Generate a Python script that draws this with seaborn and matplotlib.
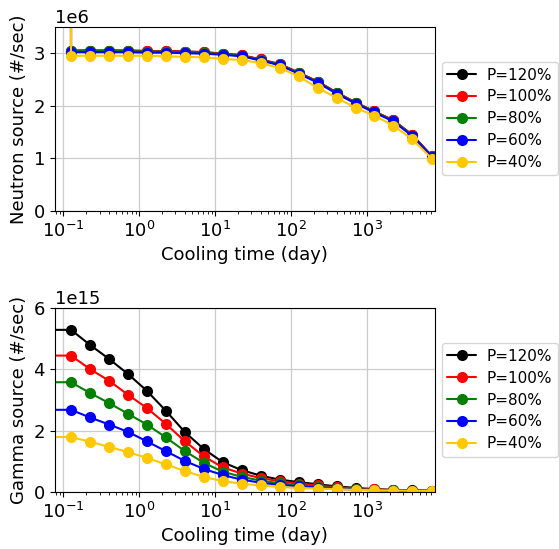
import numpy as np
import pandas as pd
import matplotlib
matplotlib.use("Agg")
import matplotlib.pyplot as plt
import seaborn as sns

# --- data ---
# first point is t=0 (clipped by the log axis, only its connecting segment shows)
cooling_days = [0, 0.126, 0.224, 0.40, 0.71, 1.26, 2.24, 4.0, 7.1, 12.6, 22.4,
                40, 71, 126, 224, 400, 710, 1260, 2240, 4000, 7200]
labels = ["P=120%", "P=100%", "P=80%", "P=60%", "P=40%"]
colors = ["black", "red", "green", "blue", "#FFC800"]

# neutron source (#/sec), units of 1e6
neutron_120 = [1.0e7, 3.05, 3.05, 3.05, 3.05, 3.04, 3.04, 3.03, 3.02, 2.99, 2.96,
               2.88, 2.79, 2.63, 2.46, 2.25, 2.06, 1.89, 1.72, 1.44, 1.04]
neutron_100 = [1.0e7, 3.05, 3.05, 3.05, 3.05, 3.04, 3.04, 3.03, 3.02, 2.99, 2.96,
               2.88, 2.79, 2.63, 2.46, 2.25, 2.06, 1.89, 1.72, 1.44, 1.04]
neutron_80 = [1.0e7, 3.04, 3.04, 3.04, 3.04, 3.03, 3.03, 3.02, 3.01, 2.98, 2.95,
              2.87, 2.78, 2.62, 2.45, 2.24, 2.05, 1.88, 1.71, 1.43, 1.03]
neutron_60 = [1.0e7, 3.02, 3.02, 3.02, 3.02, 3.01, 3.01, 3.00, 2.99, 2.97, 2.94,
              2.86, 2.77, 2.61, 2.44, 2.23, 2.04, 1.87, 1.70, 1.42, 1.03]
neutron_40 = [1.0e7, 2.95, 2.95, 2.95, 2.95, 2.95, 2.94, 2.93, 2.92, 2.89, 2.87,
              2.81, 2.72, 2.56, 2.34, 2.15, 1.96, 1.81, 1.62, 1.36, 0.99]

# gamma source (#/sec), units of 1e15
gamma_120 = [5.31, 5.29, 4.80, 4.34, 3.85, 3.30, 2.65, 1.95, 1.40, 0.97, 0.71,
             0.53, 0.40, 0.32, 0.25, 0.18, 0.13, 0.09, 0.07, 0.05, 0.04]
gamma_100 = [4.47, 4.45, 4.01, 3.63, 3.17, 2.74, 2.22, 1.65, 1.16, 0.80, 0.60,
             0.45, 0.35, 0.27, 0.21, 0.15, 0.11, 0.08, 0.06, 0.045, 0.035]
gamma_80 = [3.60, 3.58, 3.23, 2.90, 2.55, 2.20, 1.78, 1.33, 0.95, 0.66, 0.49,
            0.37, 0.28, 0.22, 0.17, 0.12, 0.09, 0.065, 0.05, 0.04, 0.03]
gamma_60 = [2.70, 2.68, 2.43, 2.20, 1.96, 1.65, 1.33, 1.01, 0.75, 0.55, 0.40,
            0.30, 0.23, 0.18, 0.14, 0.10, 0.075, 0.055, 0.045, 0.035, 0.03]
gamma_40 = [1.80, 1.79, 1.64, 1.47, 1.30, 1.11, 0.90, 0.68, 0.49, 0.35, 0.27,
            0.21, 0.16, 0.13, 0.11, 0.09, 0.065, 0.055, 0.045, 0.035, 0.03]

neutron = [neutron_120, neutron_100, neutron_80, neutron_60, neutron_40]
gamma = [gamma_120, gamma_100, gamma_80, gamma_60, gamma_40]

sns.set_style("white", rc={"text.color": "black", "axes.labelcolor": "black",
                           "xtick.color": "black", "ytick.color": "black"})
plt.rcParams["font.family"] = ["DejaVu Sans"]
plt.rcParams["font.size"] = 13

fig, (ax1, ax2) = plt.subplots(2, 1, figsize=(5.59, 5.49), dpi=100)
fig.subplots_adjust(left=0.098, right=0.778, top=0.951, bottom=0.104, hspace=0.53)

for ax, series, scale, ylab, ytop in [
        (ax1, neutron, 1e6, "Neutron source (#/sec)", 3.5e6),
        (ax2, gamma, 1e15, "Gamma source (#/sec)", 6e15)]:
    for vals, lab, col in zip(series, labels, colors):
        df = pd.DataFrame({"t": cooling_days, "s": np.array(vals) * scale})
        sns.lineplot(data=df, x="t", y="s", ax=ax, color=col, marker="o",
                     markersize=8, markeredgewidth=0, linewidth=1.5,
                     label=lab, sort=False)
    ax.set_xscale("log")
    ax.set_xlim(0.077, 7900)
    ax.set_ylim(0, ytop)
    ax.grid(True, color="#cccccc", linewidth=0.9)
    for s in ax.spines.values():
        s.set_color("black")
        s.set_linewidth(0.8)
    ax.tick_params(axis="both", which="both", direction="out", color="black",
                   bottom=True, left=True, labelsize=13)
    ax.tick_params(which="major", length=3.5, width=0.8)
    ax.tick_params(which="minor", length=2, width=0.6)
    ax.yaxis.get_offset_text().set_fontsize(13)
    ax.set_xlabel("Cooling time (day)", fontsize=13)
    ax.set_ylabel(ylab, fontsize=13)
    ax.legend(loc="center left", bbox_to_anchor=(1.018, 0.5), borderaxespad=0,
              frameon=True, fontsize=11, handlelength=1.9, borderpad=0.35,
              labelspacing=0.45, handletextpad=0.7)

ax1.set_yticks([0, 1e6, 2e6, 3e6])
ax2.set_yticks([0, 2e15, 4e15, 6e15])

fig.savefig("out.png", dpi=100)
